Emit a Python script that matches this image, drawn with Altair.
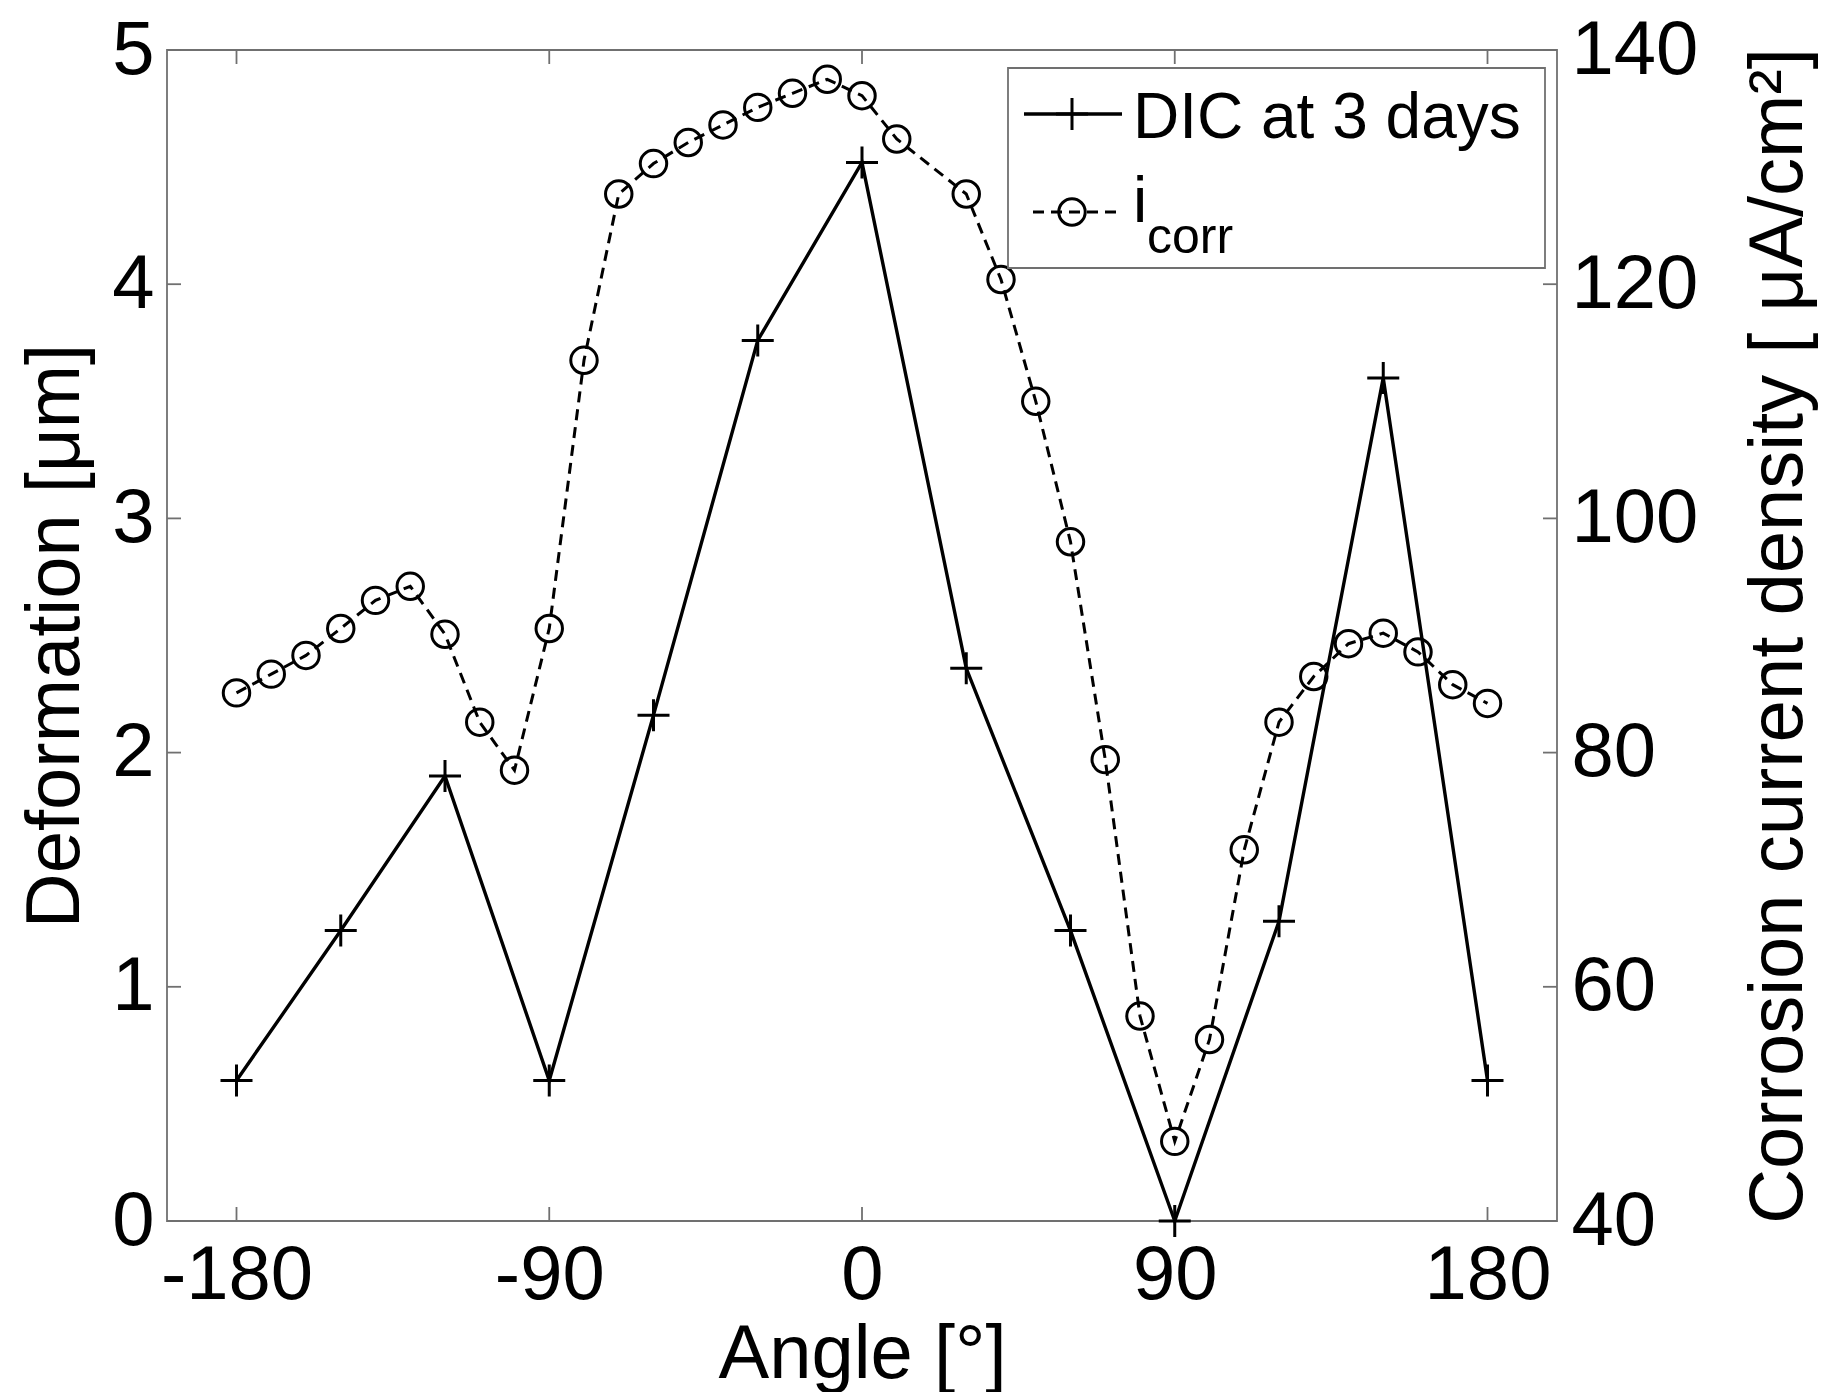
import altair as alt
import pandas as pd

# ---------------- data ----------------
dic_angle = [-180, -150, -120, -90, -60, -30, 0, 30, 60, 90, 120, 150, 180]
dic_def = [0.6, 1.24, 1.9, 0.6, 2.16, 3.76, 4.52, 2.36, 1.24, 0.0, 1.28, 3.6, 0.6]

icorr_angle = [-180, -170, -160, -150, -140, -130, -120, -110, -100, -90,
               -80, -70, -60, -50, -40, -30, -20, -10, 0, 10,
               30, 40, 50, 60, 70, 80, 90, 100, 110, 120,
               130, 140, 150, 160, 170, 180]
icorr_val = [85.1, 86.7, 88.3, 90.6, 93.0, 94.2, 90.1, 82.6, 78.5, 90.6,
             113.5, 127.7, 130.3, 132.1, 133.6, 135.1, 136.3, 137.5, 136.1, 132.4,
             127.7, 120.4, 110.0, 98.0, 79.4, 57.5, 46.8, 55.5, 71.7, 82.6,
             86.5, 89.3, 90.2, 88.6, 85.8, 84.2]

x_ticks = [-180, -90, 0, 90, 180]
left_ticks = [0, 1, 2, 3, 4, 5]
right_ticks = [40, 60, 80, 100, 120, 140]
legend_labels = ["DIC at 3 days", "i", "corr"]

# ---------------- style ----------------
W, H = 1390, 1171
FONT = "Liberation Sans"
GRAY = "#707070"
PLUS = "M-1,0L1,0M0,-1L0,1"
TICK = 14
FS = 76

dic_df = pd.DataFrame({"angle": dic_angle, "def": dic_def})
icorr_df = pd.DataFrame({"angle": icorr_angle, "icorr": icorr_val})
xt_df = pd.DataFrame({"angle": x_ticks})
lt_df = pd.DataFrame({"v": left_ticks})
rt_df = pd.DataFrame({"v": right_ticks})

xs = alt.Scale(domain=[-200, 200], nice=False, zero=False)
ys_l = alt.Scale(domain=[0, 5], nice=False, zero=False)
ys_r = alt.Scale(domain=[40, 140], nice=False, zero=False)

common = dict(labelFont=FONT, titleFont=FONT, labelFontSize=FS, titleFontSize=FS,
              labelColor="black", titleColor="black", titleFontWeight="normal",
              grid=False, domain=False, ticks=False, labelFlush=False)

x_axis = alt.Axis(values=x_ticks, title="Angle [°]", labelPadding=17, titlePadding=4,
                  labelExpr="'' + datum.value", **common)
x_enc = alt.X("angle:Q", scale=xs, axis=x_axis)

dic_line = alt.Chart(dic_df).mark_line(color="black", strokeWidth=3.4).encode(
    x=x_enc,
    y=alt.Y("def:Q", scale=ys_l,
            axis=alt.Axis(orient="left", values=left_ticks, title="Deformation [μm]",
                          labelPadding=13, titlePadding=17, **common)),
)
dic_pts = alt.Chart(dic_df).mark_point(shape=PLUS, size=1024, filled=False, color="black",
                                       strokeWidth=3, opacity=1).encode(
    x=x_enc, y=alt.Y("def:Q", scale=ys_l, axis=None))
icorr_line = alt.Chart(icorr_df).mark_line(color="black", strokeWidth=3,
                                           strokeDash=[11, 7]).encode(
    x=x_enc,
    y=alt.Y("icorr:Q", scale=ys_r,
            axis=alt.Axis(orient="right", values=right_ticks,
                          title="Corrosion current density [ μA/cm²]",
                          labelPadding=14, titlePadding=44, titleAngle=270,
                          titleBaseline="top", **common)),
)
icorr_pts = alt.Chart(icorr_df).mark_point(shape="circle", size=700, filled=False,
                                           color="black", strokeWidth=3, opacity=1).encode(
    x=x_enc, y=alt.Y("icorr:Q", scale=ys_r, axis=None))

# inward ticks (MATLAB style)
xt_bot = alt.Chart(xt_df).mark_rule(color=GRAY, strokeWidth=1.8).encode(
    x=x_enc, y=alt.value(H), y2=alt.value(H - TICK))
xt_top = alt.Chart(xt_df).mark_rule(color=GRAY, strokeWidth=1.8).encode(
    x=x_enc, y=alt.value(0), y2=alt.value(TICK))
lt = alt.Chart(lt_df).mark_rule(color=GRAY, strokeWidth=1.8).encode(
    y=alt.Y("v:Q", scale=ys_l, axis=None), x=alt.value(0), x2=alt.value(TICK))
rt = alt.Chart(rt_df).mark_rule(color=GRAY, strokeWidth=1.8).encode(
    y=alt.Y("v:Q", scale=ys_r, axis=None), x=alt.value(W - TICK), x2=alt.value(W))

# legend (manual, to allow the subscript)
one = pd.DataFrame({"k": [0]})
leg_box = alt.Chart(one).mark_rect(fill="white", stroke=GRAY, strokeWidth=1.8).encode(
    x=alt.value(841), x2=alt.value(1378), y=alt.value(18), y2=alt.value(218))
leg_l1 = alt.Chart(one).mark_rule(color="black", strokeWidth=3.4).encode(
    x=alt.value(857), x2=alt.value(955), y=alt.value(64))
leg_p1 = alt.Chart(one).mark_point(shape=PLUS, size=1024, filled=False, color="black",
                                   strokeWidth=3, opacity=1).encode(
    x=alt.value(905), y=alt.value(64))
leg_l2 = alt.Chart(one).mark_rule(color="black", strokeWidth=3, strokeDash=[11, 7]).encode(
    x=alt.value(866), x2=alt.value(955), y=alt.value(162))
leg_p2 = alt.Chart(one).mark_point(shape="circle", size=700, filled=False, color="black",
                                   strokeWidth=3, opacity=1).encode(
    x=alt.value(905), y=alt.value(162))


def leg_text(label, x, y, size):
    return alt.Chart(pd.DataFrame({"label": [label]})).mark_text(
        align="left", baseline="alphabetic", font=FONT, fontSize=size, color="black"
    ).encode(x=alt.value(x), y=alt.value(y), text="label:N")


leg_t1 = leg_text(legend_labels[0], 966, 88, 64)
leg_t2 = leg_text(legend_labels[1], 966, 172, 64)
leg_t3 = leg_text(legend_labels[2], 980, 203, 50)

chart = alt.layer(
    dic_line, icorr_line, xt_bot, xt_top, lt, rt, dic_pts, icorr_pts,
    leg_box, leg_l1, leg_p1, leg_l2, leg_p2, leg_t1, leg_t2, leg_t3,
).resolve_scale(
    y="independent"
).properties(
    width=W, height=H,
    autosize=alt.AutoSizeParams(type="none"),
    padding={"left": 159, "top": 42, "right": 266, "bottom": 171},
).configure_view(
    stroke=GRAY, strokeWidth=1.8
)

chart.save("out.html", embed_options={"renderer": "svg", "actions": False})
